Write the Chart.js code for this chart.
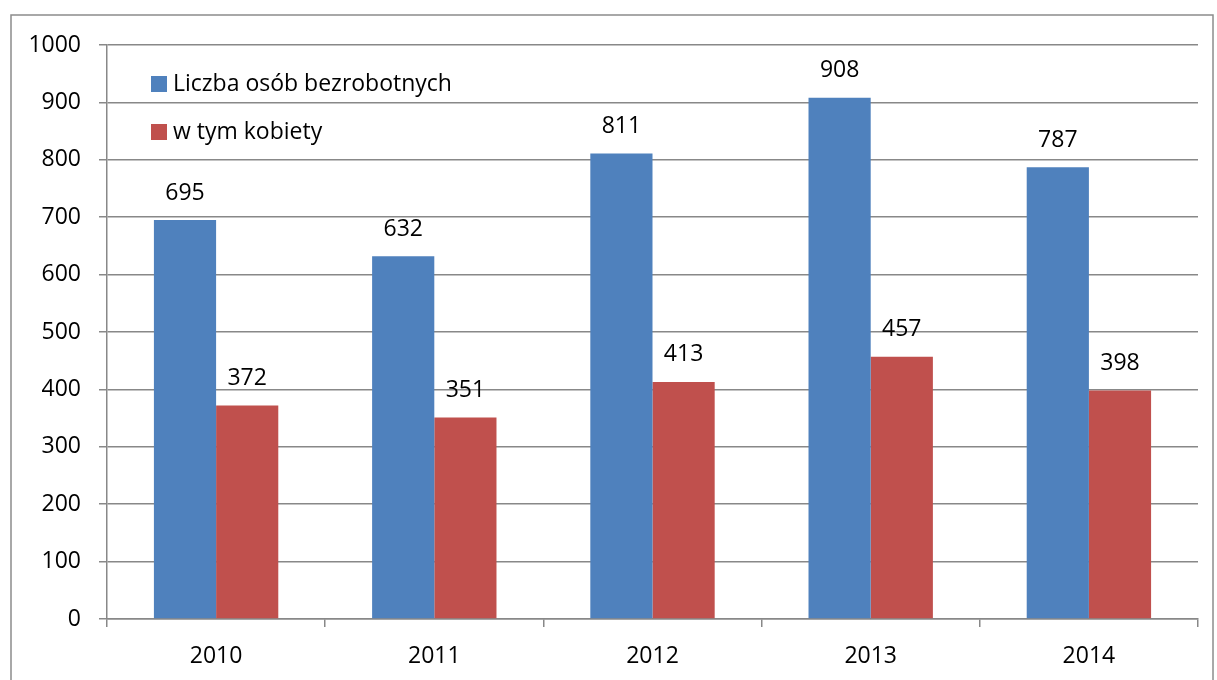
<!DOCTYPE html>
<html>
<head>
<meta charset="utf-8">
<script src="https://cdn.jsdelivr.net/npm/chart.js@4"></script>
<style>
  html, body { margin: 0; padding: 0; background: #fff; }
  #wrap { width: 1217px; height: 680px; position: relative; }
</style>
</head>
<body>
<div id="wrap"><canvas id="chart"></canvas></div>
<script>
const years = ['2010', '2011', '2012', '2013', '2014']
const unemployed = [695, 632, 811, 908, 787]
const women = [372, 351, 413, 457, 398]
const seriesNames = ['Liczba osób bezrobotnych', 'w tym kobiety']
const yTicks = [0, 100, 200, 300, 400, 500, 600, 700, 800, 900, 1000]

const FONT = 'Open Sans'
const SIZE = 23
const GRID = '#888888'

// frame around the whole picture
const framePlugin = {
  id: 'frame',
  beforeDraw(chart) {
    const ctx = chart.ctx
    ctx.save()
    ctx.strokeStyle = '#8c8c8c'
    ctx.lineWidth = 1.5
    ctx.strokeRect(11, 15, 1202, 700)
    ctx.restore()
  },
}

// value labels above the bars
const valuesPlugin = {
  id: 'values',
  afterDatasetsDraw(chart) {
    const ctx = chart.ctx
    ctx.save()
    ctx.font = `${SIZE}px "${FONT}"`
    ctx.fillStyle = '#000'
    ctx.textAlign = 'center'
    ctx.textBaseline = 'middle'
    chart.data.datasets.forEach((ds, i) => {
      chart.getDatasetMeta(i).data.forEach((bar, j) => {
        ctx.fillText(String(ds.data[j]), bar.x, bar.y - 27)
      })
    })
    ctx.restore()
  },
}

// legend inside the plot, top-left
const innerLegend = {
  id: 'innerLegend',
  afterDraw(chart) {
    const ctx = chart.ctx
    const area = chart.chartArea
    ctx.save()
    ctx.font = `${SIZE}px "${FONT}"`
    ctx.textBaseline = 'middle'
    chart.data.datasets.forEach((ds, i) => {
      const y = area.top + 39 + i * 48
      const x = area.left + 44
      ctx.fillStyle = ds.backgroundColor
      ctx.fillRect(x, y - 8, 16, 16)
      ctx.fillStyle = '#000'
      ctx.fillText(ds.label, x + 22, y)
    })
    ctx.restore()
  },
}

new Chart(document.getElementById('chart').getContext('2d'), {
  type: 'bar',
  data: {
    labels: years,
    datasets: [
      {
        label: seriesNames[0],
        data: unemployed,
        backgroundColor: '#4F81BD',
        categoryPercentage: 0.57,
        barPercentage: 1,
      },
      {
        label: seriesNames[1],
        data: women,
        backgroundColor: '#C0504D',
        categoryPercentage: 0.57,
        barPercentage: 1,
      },
    ],
  },
  plugins: [framePlugin, valuesPlugin, innerLegend],
  options: {
    animation: false,
    responsive: true,
    maintainAspectRatio: false,
    layout: {
      padding: { top: 45, right: 19, left: 0, bottom: 0 },
    },
    plugins: {
      legend: { display: false },
      tooltip: { enabled: false },
    },
    scales: {
      x: {
        offset: true,
        grid: {
          offset: true,
          drawOnChartArea: false,
          drawTicks: true,
          tickLength: 8,
          color: GRID,
          lineWidth: 1.5,
        },
        border: { color: GRID, width: 1.5 },
        ticks: {
          color: '#000',
          padding: 16,
          font: { family: FONT, size: SIZE },
        },
        afterFit(scale) {
          scale.height = 61
        },
      },
      y: {
        min: 0,
        max: 1000,
        afterBuildTicks(scale) {
          scale.ticks = yTicks.map((v) => ({ value: v }))
        },
        grid: {
          color: GRID,
          lineWidth: 1.5,
          tickLength: 8,
        },
        border: { color: GRID, width: 1.5 },
        ticks: {
          color: '#000',
          padding: 18,
          font: { family: FONT, size: SIZE },
          callback: (v) => String(v),
        },
        afterFit(scale) {
          scale.width = 107
        },
      },
    },
  },
})
</script>
</body>
</html>
